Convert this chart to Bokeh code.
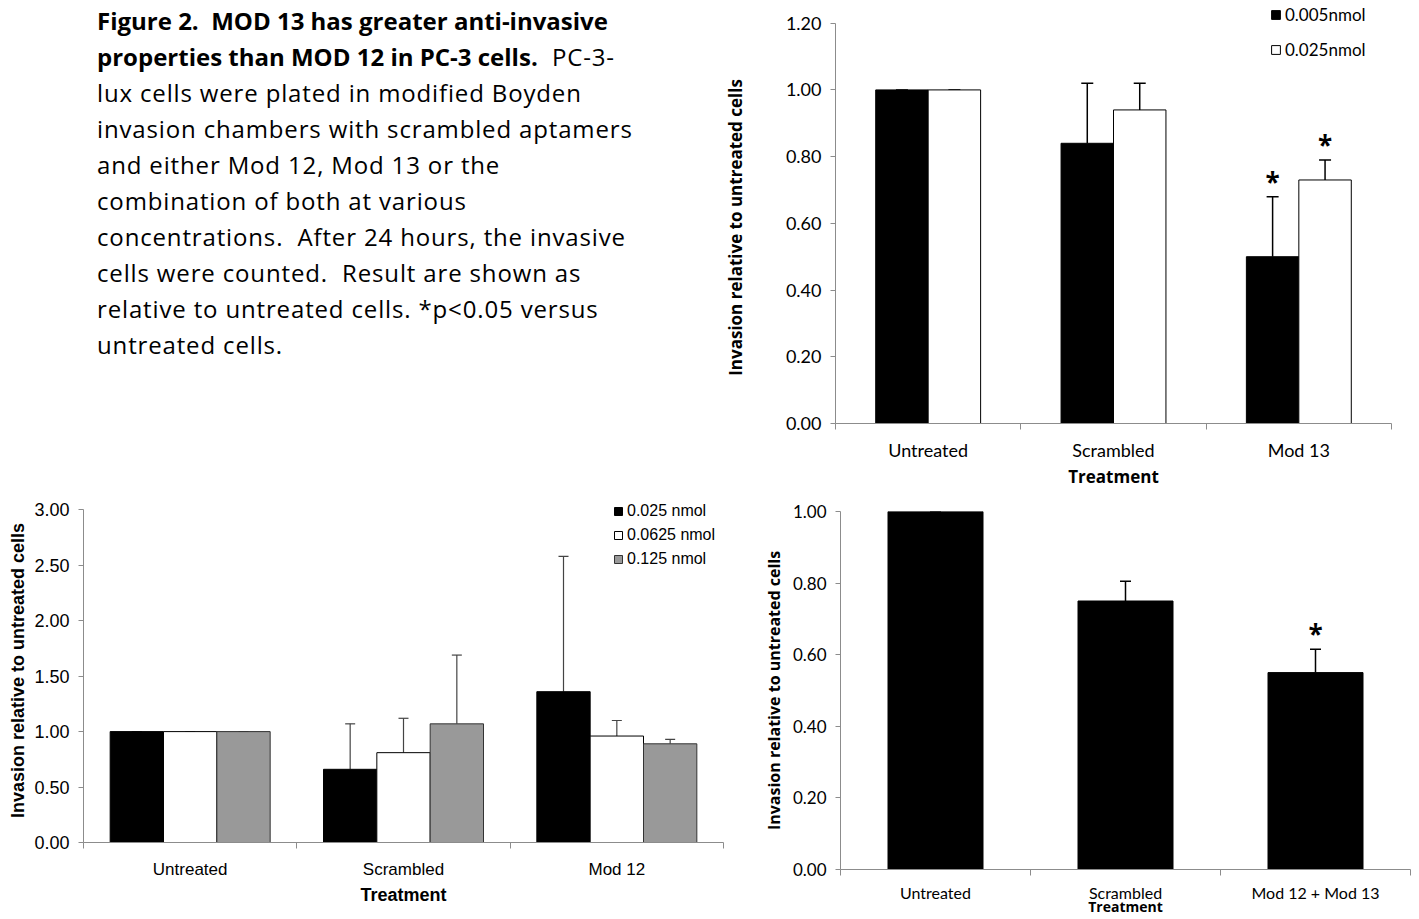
from bokeh.plotting import figure
from bokeh.models import (Range1d, FixedTicker, NumeralTickFormatter, Whisker, TeeHead,
                          ColumnDataSource, Legend, LegendItem, Div)
from bokeh.layouts import row, column
from bokeh.core.properties import value
from bokeh.embed import file_html
from bokeh.resources import INLINE

# ---------------- data ----------------
tr_categories = ["Untreated", "Scrambled", "Mod 13"]
tr_series = ["0.005nmol", "0.025nmol"]
tr_means = [[1.00, 0.84, 0.50], [1.00, 0.94, 0.73]]
tr_errors = [[0.00, 0.18, 0.18], [0.00, 0.08, 0.06]]
tr_significant = [[False, False, True], [False, False, True]]
tr_yticks = [0.0, 0.2, 0.4, 0.6, 0.8, 1.0, 1.2]

bl_categories = ["Untreated", "Scrambled", "Mod 12"]
bl_series = ["0.025 nmol", "0.0625 nmol", "0.125 nmol"]
bl_means = [[1.00, 0.66, 1.36], [1.00, 0.81, 0.96], [1.00, 1.07, 0.89]]
bl_errors = [[0.00, 0.41, 1.22], [0.00, 0.31, 0.14], [0.00, 0.62, 0.04]]
bl_significant = [[False, False, False], [False, False, False], [False, False, False]]
bl_yticks = [0.0, 0.5, 1.0, 1.5, 2.0, 2.5, 3.0]

br_categories = ["Untreated", "Scrambled", "Mod 12 + Mod 13"]
br_series = ["Mean"]
br_means = [[1.00, 0.75, 0.55]]
br_errors = [[0.00, 0.055, 0.065]]
br_significant = [[False, False, True]]
br_yticks = [0.0, 0.2, 0.4, 0.6, 0.8, 1.0]

y_title = "Invasion relative to untreated cells"
x_title = "Treatment"

caption_html = (
    "<b>Figure 2.&nbsp; MOD 13 has greater anti-invasive</b><br>"
    "<b>properties than MOD 12 in PC-3 cells.</b>&nbsp; PC-3-<br>"
    "lux cells were plated in modified Boyden<br>"
    "invasion chambers with scrambled aptamers<br>"
    "and either Mod 12, Mod 13 or the<br>"
    "combination of both at various<br>"
    "concentrations.&nbsp; After 24 hours, the invasive<br>"
    "cells were counted.&nbsp; Result are shown as<br>"
    "relative to untreated cells. *p&lt;0.05 versus<br>"
    "untreated cells."
)

AXIS_GRAY = "#8c8c8c"


def bar_chart(categories, series, means, errors, sig, yticks, ymax, *, width, height,
              borders, top_gap, bar_w, fills, lines, err_color, tick_font, ytick_size,
              xtick_size, label_font, xlabel_size, ylabel_size, tick_standoff,
              xlabel_standoff, ylabel_standoff, legend_loc=None, legend_kw=None,
              tee=11, err_width=1.5, ylabel_pad=0):
    n_cat = len(categories)
    frame_h = height - borders[2] - borders[3]
    y_end = ymax * frame_h / (frame_h - top_gap)
    p = figure(width=width, height=height, x_range=Range1d(0, n_cat), y_range=Range1d(0, y_end),
               output_backend="svg", toolbar_location=None,
               min_border_left=borders[0], min_border_right=borders[1],
               min_border_top=borders[2], min_border_bottom=borders[3])
    p.frame_align = False
    p.xgrid.visible = False
    p.ygrid.visible = False
    p.outline_line_color = None
    p.background_fill_color = "white"
    p.border_fill_color = "white"

    n_ser = len(series)
    renderers = []
    for j, name in enumerate(series):
        off = (j - (n_ser - 1) / 2.0) * bar_w
        xs = [i + 0.5 + off for i in range(n_cat)]
        tops = means[j]
        uppers = [m + e for m, e in zip(means[j], errors[j])]
        src = ColumnDataSource(dict(x=xs, top=tops, upper=uppers))
        r = p.vbar(x="x", top="top", bottom=0, width=bar_w, source=src,
                   fill_color=fills[j], line_color=lines[j], line_width=1)
        renderers.append((name, r))
        p.add_layout(Whisker(source=src, base="x", upper="upper", lower="top",
                             dimension="height", line_color=err_color, line_width=err_width,
                             upper_head=TeeHead(size=tee, line_color=err_color, line_width=err_width),
                             lower_head=None))
        sx = [x for x, s in zip(xs, sig[j]) if s]
        sy = [u for u, s in zip(uppers, sig[j]) if s]
        if sx:
            p.text(x=sx, y=sy, text=["*"] * len(sx), text_align="center",
                   text_baseline="alphabetic", y_offset=-15,
                   text_font=value("Open Sans"), text_font_style="bold",
                   text_font_size="26px", text_color="black")

    # x axis: labels at category centres, ticks on category boundaries
    xa = p.xaxis[0]
    centers = [i + 0.5 for i in range(n_cat)]
    xa.ticker = FixedTicker(ticks=centers, minor_ticks=list(range(n_cat + 1)))
    xa.major_label_overrides = {c: cat for c, cat in zip(centers, categories)}
    xa.major_tick_line_color = None
    xa.major_tick_out = 0
    xa.major_tick_in = 0
    xa.minor_tick_out = 6
    xa.minor_tick_in = 0
    xa.minor_tick_line_color = AXIS_GRAY
    xa.axis_line_color = AXIS_GRAY
    xa.major_label_text_font = tick_font
    xa.major_label_text_font_size = xtick_size
    xa.major_label_text_color = "black"
    xa.major_label_standoff = tick_standoff
    xa.axis_label = x_title
    xa.axis_label_text_font = label_font
    xa.axis_label_text_font_style = "bold"
    xa.axis_label_text_font_size = xlabel_size
    xa.axis_label_text_color = "black"
    xa.axis_label_standoff = xlabel_standoff

    ya = p.yaxis[0]
    ya.ticker = FixedTicker(ticks=yticks)
    ya.bounds = (0, ymax)
    ya.formatter = NumeralTickFormatter(format="0.00")
    ya.major_tick_out = 5
    ya.major_tick_in = 0
    ya.major_tick_line_color = AXIS_GRAY
    ya.minor_tick_line_color = None
    ya.axis_line_color = AXIS_GRAY
    ya.major_label_text_font = tick_font
    ya.major_label_text_font_size = ytick_size
    ya.major_label_text_color = "black"
    ya.major_label_standoff = 9
    # trailing no-break spaces re-centre the title on the 0..ymax span of the axis
    ya.axis_label = y_title + "\u00a0" * ylabel_pad
    ya.axis_label_text_font = label_font
    ya.axis_label_text_font_style = "bold"
    ya.axis_label_text_font_size = ylabel_size
    ya.axis_label_text_color = "black"
    ya.axis_label_standoff = ylabel_standoff

    if legend_loc is not None:
        leg = Legend(items=[LegendItem(label=nm, renderers=[r]) for nm, r in renderers],
                     location=legend_loc, orientation="vertical",
                     border_line_color=None, background_fill_alpha=0,
                     padding=0, margin=0, **legend_kw)
        p.add_layout(leg)
    return p


tr = bar_chart(tr_categories, tr_series, tr_means, tr_errors, tr_significant, tr_yticks, 1.2,
               width=699, height=498, borders=(114, 28, 0, 75), top_gap=22.7, bar_w=0.283,
               fills=["black", "white"], lines=["black", "black"], err_color="black",
               tick_font="Lato", ytick_size="18px", xtick_size="18px",
               label_font="Open Sans", xlabel_size="17px", ylabel_size="17px",
               tick_standoff=9, xlabel_standoff=1, ylabel_standoff=36,
               legend_loc=(435, 363),
               legend_kw=dict(glyph_width=11, glyph_height=11, label_height=20, spacing=14,
                              label_standoff=4, label_text_font="Lato",
                              label_text_font_size="17px", label_text_color="black"),
               tee=12, ylabel_pad=7)

bl = bar_chart(bl_categories, bl_series, bl_means, bl_errors, bl_significant, bl_yticks, 3.0,
               width=740, height=421, borders=(83, 17, 0, 77), top_gap=11.3, bar_w=0.25,
               fills=["black", "white", "#999999"], lines=["black", "black", "#333333"],
               err_color="#444444", tick_font="Liberation Sans", ytick_size="18px",
               xtick_size="17px", label_font="Liberation Sans", xlabel_size="18px",
               ylabel_size="18px", tick_standoff=11, xlabel_standoff=3, ylabel_standoff=3,
               legend_loc=(530, 274),
               legend_kw=dict(glyph_width=10, glyph_height=10, label_height=18, spacing=6,
                              label_standoff=4, label_text_font="Liberation Sans",
                              label_text_font_size="16px", label_text_color="black"),
               tee=10, err_width=1.2)

br = bar_chart(br_categories, br_series, br_means, br_errors, br_significant, br_yticks, 1.0,
               width=679, height=421, borders=(100, 9, 13, 50), top_gap=0, bar_w=0.5,
               fills=["black"], lines=["black"], err_color="black",
               tick_font="Lato", ytick_size="17px", xtick_size="16px",
               label_font="Open Sans", xlabel_size="14px", ylabel_size="16px",
               tick_standoff=7, xlabel_standoff=-8, ylabel_standoff=5,
               tee=11)

caption = Div(text=('<div style="font-family:\'Open Sans\'; font-size:24px; line-height:36px; '
                    'letter-spacing:0.85px; color:#000; padding-left:97px; margin-top:3px; '
                    'white-space:nowrap;">'
                    + caption_html.replace("<b>", '<b style="letter-spacing:0px;">') + '</div>'),
              width=720, height=498, margin=0)

layout = column(row(caption, tr), row(bl, br))

open("out.html", "w").write(file_html(layout, INLINE))
